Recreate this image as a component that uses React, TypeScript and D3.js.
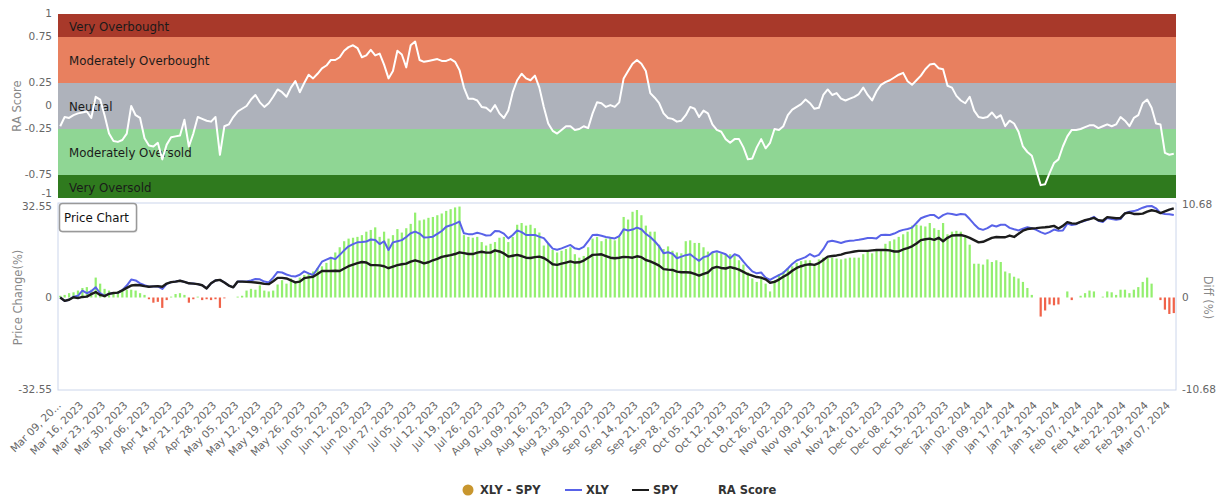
import React from 'react';
import * as d3 from 'd3';

// x axis: one label every 5 trading days
const dateLabels = [
  'Mar 09, 20...', 'Mar 16, 2023', 'Mar 23, 2023', 'Mar 30, 2023', 'Apr 06, 2023', 'Apr 14, 2023',
  'Apr 21, 2023', 'Apr 28, 2023', 'May 05, 2023', 'May 12, 2023', 'May 19, 2023', 'May 26, 2023',
  'Jun 05, 2023', 'Jun 12, 2023', 'Jun 20, 2023', 'Jun 27, 2023', 'Jul 05, 2023', 'Jul 12, 2023',
  'Jul 19, 2023', 'Jul 26, 2023', 'Aug 02, 2023', 'Aug 09, 2023', 'Aug 16, 2023', 'Aug 23, 2023',
  'Aug 30, 2023', 'Sep 07, 2023', 'Sep 14, 2023', 'Sep 21, 2023', 'Sep 28, 2023', 'Oct 05, 2023',
  'Oct 12, 2023', 'Oct 19, 2023', 'Oct 26, 2023', 'Nov 02, 2023', 'Nov 09, 2023', 'Nov 16, 2023',
  'Nov 24, 2023', 'Dec 01, 2023', 'Dec 08, 2023', 'Dec 15, 2023', 'Dec 22, 2023', 'Jan 02, 2024',
  'Jan 09, 2024', 'Jan 17, 2024', 'Jan 24, 2024', 'Jan 31, 2024', 'Feb 07, 2024', 'Feb 14, 2024',
  'Feb 22, 2024', 'Feb 29, 2024', 'Mar 07, 2024'
];
const labelEvery = 5;

const raScore = [
  -0.22, -0.12, -0.13, -0.1, -0.08, -0.07, -0.06, -0.13, 0.1, 0.07,
  -0.1, -0.3, -0.38, -0.39, -0.37, -0.3, 0.0, -0.1, -0.13, -0.35,
  -0.43, -0.44, -0.4, -0.58, -0.42, -0.34, -0.33, -0.32, -0.15, -0.44,
  -0.3, -0.12, -0.14, -0.16, -0.17, -0.12, -0.53, -0.22, -0.2, -0.12,
  -0.06, -0.03, 0.0, 0.07, 0.12, 0.04, -0.01, 0.03, 0.1, 0.18,
  0.15, 0.1, 0.2, 0.27, 0.15, 0.25, 0.34, 0.3, 0.35, 0.41,
  0.44, 0.5, 0.5, 0.53, 0.6, 0.64, 0.66, 0.63, 0.53, 0.55,
  0.61, 0.55, 0.57, 0.45, 0.3, 0.38, 0.6, 0.56, 0.42, 0.66,
  0.7, 0.5, 0.48, 0.49, 0.5, 0.51, 0.49, 0.49, 0.51, 0.48,
  0.39, 0.2, 0.08, 0.08, 0.06, -0.01, -0.02, -0.06, 0.01, -0.08,
  -0.13, -0.05, 0.15, 0.28, 0.35, 0.3, 0.28, 0.33, 0.2, -0.01,
  -0.19, -0.27, -0.3, -0.26, -0.22, -0.22, -0.26, -0.25, -0.22, -0.24,
  -0.08, 0.04, 0.03, -0.01, 0.01, -0.01, 0.04, 0.3, 0.38, 0.46,
  0.5, 0.46, 0.38, 0.14, 0.09, 0.03, -0.08, -0.13, -0.14, -0.17,
  -0.16, -0.1, -0.01, -0.03, -0.12, -0.05, -0.08,
  -0.2, -0.26, -0.28, -0.36, -0.4, -0.36, -0.36, -0.45, -0.58, -0.57,
  -0.45, -0.36, -0.46, -0.4, -0.25, -0.26, -0.22, -0.1, -0.04, -0.01,
  0.02, 0.07, 0.03, -0.03, -0.02, 0.12, 0.18, 0.12, 0.14, 0.08,
  0.06, 0.08, 0.1, 0.13, 0.2, 0.12, 0.06, 0.16, 0.23, 0.26,
  0.28, 0.31, 0.34, 0.36, 0.27, 0.23, 0.28, 0.33, 0.4, 0.45,
  0.46, 0.41, 0.4, 0.22, 0.2, 0.11, 0.06, 0.03, 0.1, -0.05,
  -0.12, -0.13, -0.12, -0.07, -0.13, -0.1, -0.22, -0.16, -0.19, -0.28,
  -0.44, -0.5, -0.54, -0.7, -0.86, -0.85, -0.73, -0.62, -0.58, -0.44,
  -0.33, -0.26, -0.26, -0.25, -0.23, -0.21, -0.21, -0.24, -0.22, -0.2,
  -0.22, -0.2, -0.12, -0.16, -0.22, -0.13, -0.1, 0.03, 0.07, -0.02,
  -0.19, -0.2, -0.51, -0.53, -0.52
];

const xlyChange = [
  0, -1.2, -0.8, 0.3, 0.6, 2.4, 1.5, 2.2, 3.6, 1.5,
  0.6, 1.3, 1.6, 1.7, 2.6, 4.2, 6.3, 6.0, 5.0, 4.3,
  3.8, 3.9, 3.9, 3.0, 4.8, 5.4, 5.6, 5.9, 5.5, 5.0,
  4.9, 4.7, 4.3, 3.2, 5.0, 6.0, 6.2, 5.3, 4.2, 3.6,
  5.6, 5.6, 5.6, 6.0, 6.5, 6.4, 5.6, 5.3, 7.0, 9.0,
  8.8, 8.1, 7.6, 7.4, 8.0, 9.2, 8.5, 7.9, 10.2, 12.6,
  13.3, 14.0, 13.5, 15.0, 16.6, 18.0, 18.8, 19.4, 19.5, 19.7,
  20.4, 20.2, 18.8, 19.8, 16.7, 19.4, 19.8, 20.2, 21.3, 22.6,
  23.2, 22.5, 21.1, 21.2, 21.4, 22.4, 23.4, 24.9, 25.4, 26.0,
  26.7, 22.6, 22.3, 22.3, 22.8, 22.4, 21.8, 21.9, 23.4, 23.3,
  22.5, 20.8, 22.0, 23.6, 23.0, 22.0, 22.0, 22.0, 21.4, 20.9,
  19.0, 17.2, 16.8, 17.3, 17.9, 18.5, 17.3, 17.0, 17.8, 19.8,
  22.0, 22.1, 21.7, 21.3, 21.0, 20.8, 21.6, 24.0, 23.6, 23.9,
  24.6, 24.0, 22.4, 21.3, 19.8, 18.0, 15.6, 15.9, 15.4, 13.8,
  14.4, 14.9, 15.2, 14.0, 12.9, 14.2, 14.6,
  15.9, 16.3, 15.8, 15.2, 13.8, 15.2, 14.6, 12.6, 10.8, 9.2,
  8.5, 8.8, 7.0, 6.2, 7.1, 7.9, 8.7, 10.2, 11.8, 13.0,
  13.6, 14.2, 15.3, 14.4, 15.0, 17.0, 19.6, 20.0, 19.6, 19.2,
  19.7, 20.0, 20.1, 20.3, 20.6, 20.9, 20.9, 20.8, 22.0, 22.1,
  22.0, 22.5, 23.3, 23.8, 24.1, 24.6, 26.2, 27.9, 28.5, 29.0,
  29.0,
  27.9, 29.0, 29.6, 29.4, 29.0, 29.4, 29.2, 27.6, 25.8, 24.3,
  23.8, 24.4, 25.4, 25.0, 25.6, 25.6, 24.5, 24.0, 23.6, 24.2,
  24.7, 24.4, 23.8, 23.0, 22.4, 23.0, 23.9, 23.5, 23.6, 26.0,
  25.5, 25.8, 26.6, 27.0, 27.6, 28.4, 27.0, 26.6, 28.0, 27.6,
  27.4, 27.6, 29.7, 30.2, 30.4, 30.9, 31.6, 32.1, 32.2, 31.4,
  29.7, 29.4, 29.3, 29.0
];

const spyChange = [
  0, -1.2, -0.8, 0.1, -0.2, 0.2, 0.3, 1.2, 1.9, 0.9,
  0.5, 1.3, 1.6, 1.7, 2.5, 3.4, 4.2, 4.4, 4.3, 4.0,
  3.8, 3.9, 4.0, 3.8, 4.9, 5.4, 5.6, 5.9, 5.5, 5.0,
  4.9, 4.7, 4.3, 3.2, 5.0, 6.0, 6.2, 5.3, 4.2, 3.6,
  5.6, 5.6, 5.5, 5.4, 5.3, 5.1, 4.8, 4.7, 5.7, 6.9,
  6.9, 6.7, 6.0, 5.3, 5.6, 6.8, 7.1, 7.3, 8.3, 9.3,
  9.3, 9.3, 9.4, 9.3, 10.2, 11.0, 11.6, 12.1, 12.5, 12.3,
  11.4, 11.4, 11.3, 11.0, 10.3, 10.9, 11.4, 11.7, 11.9, 12.6,
  13.1, 12.6, 12.0, 12.4, 13.1, 13.6, 14.3, 14.6, 14.9, 15.3,
  15.9, 15.6, 15.3, 15.3, 15.8, 16.1, 15.8, 15.8, 16.6, 16.2,
  15.5, 14.4, 14.7, 15.0, 14.6, 14.0, 13.9, 14.2, 14.4, 13.9,
  12.9, 11.7, 11.5, 11.9, 12.3, 12.7, 12.3, 12.4, 13.0, 14.0,
  15.0, 15.1, 15.2, 14.6, 14.0, 13.8, 14.0, 14.3, 14.2, 14.0,
  14.5, 14.2, 13.2, 12.7, 12.0, 11.2, 10.0, 9.8, 9.7, 9.1,
  8.9, 8.9, 8.8, 8.3, 7.7, 8.3, 8.8,
  10.3, 10.8, 10.4, 10.2, 10.7, 10.3, 9.8, 9.0, 8.2, 7.7,
  7.2, 7.0, 6.4, 5.2, 5.5, 6.3, 7.3, 8.2, 9.4, 10.4,
  11.0, 11.5, 11.7, 11.5, 12.1, 13.2, 14.4, 14.6, 14.8, 15.1,
  15.6, 15.9, 16.2, 16.4, 16.4, 16.4, 16.6, 16.7, 16.7, 16.7,
  16.6, 16.2, 16.2, 16.9, 17.4, 18.0, 19.0, 20.2, 20.5, 20.7,
  20.3,
  21.0, 19.8, 21.0, 21.8, 21.9, 22.0, 21.6, 21.0, 20.2, 19.4,
  19.6, 20.3, 21.0, 21.3, 21.2, 21.2, 21.8, 21.3, 22.4, 23.5,
  24.1, 24.3, 24.4, 24.6, 24.7, 24.9, 25.2, 24.3, 25.2, 26.5,
  26.1, 26.0, 26.6, 27.2, 27.6, 28.0, 27.2, 27.0, 28.3, 28.1,
  27.9, 28.0, 29.6, 29.9, 29.4, 29.4, 29.5, 30.2, 30.7, 30.4,
  29.7, 30.3, 30.9, 31.4
];

const xlyMinusSpy = [
  0.2, 0.3, 0.5, 0.6, 0.8, 1.1, 1.2, 0.9, 2.3, 1.6,
  1.0, 0.8, 0.6, 0.7, 0.8, 0.9, 0.9, 0.8, 0.5, 0.3,
  -0.2, -0.6, -0.5, -1.2, -0.3, 0.1, 0.4, 0.5, 0.3, -0.6,
  -0.2, 0.1, -0.3, -0.2, -0.3, -0.2, -1.2, -0.1, 0.0, 0.0,
  0.1, 0.2, 0.8, 1.0, 0.9, 1.4, 0.8, 0.7, 0.8, 1.5,
  2.0, 1.6, 2.2, 1.8, 2.3, 2.6, 2.8, 3.0, 3.4, 3.6,
  4.0, 4.6, 5.2, 5.8, 6.5, 6.8, 6.9, 7.0, 7.2, 7.6,
  7.8, 8.1, 7.0, 7.6, 6.8, 7.2, 7.9, 7.5, 8.0, 8.5,
  9.8, 8.9, 9.0, 9.2, 9.3, 9.5, 9.7, 10.0, 10.2, 10.4,
  10.5, 7.2, 7.0, 6.9, 7.0, 6.4, 6.0, 6.2, 6.4, 6.9,
  7.0, 6.4, 7.0, 8.4, 8.6, 8.3, 8.4, 8.0, 7.5, 6.0,
  6.2, 5.5, 5.2, 5.4, 5.6, 5.8, 5.0, 4.6, 4.8, 5.8,
  6.8, 7.0,
  6.5, 6.8, 7.0, 6.6, 7.0, 9.3, 9.0, 9.9, 10.1, 9.5,
  8.3, 7.6, 7.6, 6.1, 5.6, 5.9, 5.4, 5.2, 5.1, 6.5,
  6.6, 6.3, 6.3, 5.8, 5.3, 5.2, 5.2, 5.1, 5.0, 5.0,
  4.8, 4.3, 3.8, 2.9, 2.2, 1.8, 2.4, 1.6, 0.7, 2.0,
  2.7, 3.0, 3.4, 3.6, 4.0, 4.2, 4.3, 4.3, 3.7, 4.4,
  4.6, 4.6, 4.6, 4.5, 4.4, 4.5, 4.6, 4.6, 4.6, 5.0,
  5.3, 5.1, 5.4, 5.5, 6.2, 6.5, 6.7, 7.0, 7.3, 7.6,
  8.3, 8.4, 8.3, 8.2, 8.6, 8.0, 7.8,
  8.6, 7.3, 7.6, 7.7, 7.6, 7.0, 6.1, 3.9, 3.9, 3.8,
  4.4, 4.1, 4.3, 4.1, 3.0, 2.8, 2.4, 2.2, 1.8, 1.1,
  0.3, 0.0, -2.2, -1.5, -0.8, -0.9, -0.8, 0.0, 0.7, -0.3,
  0.0, 0.2, 0.5, 0.8, 0.7, 0.0, 0.1, 0.7, 0.6, 0.3,
  0.9, 0.9, 0.5, 0.9, 1.2, 1.8, 2.3, 1.6, 0.0, -0.3,
  -1.4, -1.9, -1.8
];

// RA score zones
const zoneNames = ['Very Overbought', 'Moderately Overbought', 'Neutral', 'Moderately Oversold', 'Very Oversold'];
const zoneTops = [1, 0.75, 0.25, -0.25, -0.75];
const zoneBottoms = [0.75, 0.25, -0.25, -0.75, -1];

const raTicks = [1, 0.75, 0.25, 0, -0.25, -0.75, -1];
const priceTicks = [32.55, 0, -32.55];
const diffTicks = [10.68, 0, -10.68];

const zoneColors = ['#a8392a', '#e8805f', '#aeb2bb', '#8fd694', '#2f7a1e'];
const FONT = '"DejaVu Sans", Verdana, sans-serif';

export default function App() {
  const width = 1226;
  const height = 500;
  const left = 58;
  const right = 1176;

  const n = raScore.length;
  const x = d3.scaleBand<number>().domain(d3.range(n)).range([left, right]).padding(0);
  const cx = (i: number) => (x(i) as number) + x.bandwidth() / 2;
  const barW = x.bandwidth() * 0.5;

  const yRa = d3.scaleLinear().domain([-1, 1]).range([198, 14]);
  const yPrice = d3.scaleLinear().domain([-32.55, 32.55]).range([390, 205]);
  const yDiff = d3.scaleLinear().domain([-10.68, 10.68]).range([390, 205]);

  const raLine = d3.line<number>().x((_, i) => cx(i)).y(d => yRa(d))(raScore) || '';
  const xlyLine = d3.line<number>().x((_, i) => cx(i)).y(d => yPrice(d))(xlyChange) || '';
  const spyLine = d3.line<number>().x((_, i) => cx(i)).y(d => yPrice(d))(spyChange) || '';

  const tickStyle = { fontFamily: FONT, fontSize: 10.5, fill: '#666' } as const;

  // the bottom RA label sits just above the top price label
  const raTickY = (t: number) => (t === -1 ? yRa(t) - 4 : yRa(t));
  const priceTickY = (t: number) => (t === 32.55 ? yPrice(t) + 2 : yPrice(t));

  return (
    <svg width={width} height={height} style={{ position: 'absolute', left: 0, top: 0, background: '#fff' }}>
      {/* RA score panel */}
      {zoneNames.map((name, k) => {
        const y0 = yRa(zoneTops[k]);
        const y1 = yRa(zoneBottoms[k]);
        return (
          <g key={name}>
            <rect x={left} y={y0} width={right - left} height={y1 - y0} fill={zoneColors[k]} />
            <text x={69} y={(y0 + y1) / 2 + 5} style={{ fontFamily: FONT, fontSize: 11.8, fill: '#1a1a1a' }}>{name}</text>
          </g>
        );
      })}
      <path d={raLine} fill="none" stroke="#fff" strokeWidth={2} strokeLinejoin="round" />
      {raTicks.map(t => (
        <text key={'ra' + t} x={52} y={raTickY(t)} textAnchor="end" dominantBaseline="middle" style={tickStyle}>{t}</text>
      ))}
      <text transform={`translate(17,${yRa(0)}) rotate(-90)`} textAnchor="middle" dominantBaseline="middle"
        style={{ fontFamily: FONT, fontSize: 11.5, fill: '#888' }}>RA Score</text>

      {/* price panel */}
      <rect x={left} y={203} width={right - left} height={187} fill="none" stroke="#ccd6eb" strokeWidth={1} />
      {xlyMinusSpy.map((d, i) => (
        d === 0 ? null : (
          <rect key={'b' + i} x={cx(i) - barW / 2} width={barW}
            y={Math.min(yDiff(d), yDiff(0))} height={Math.abs(yDiff(d) - yDiff(0))}
            fill={d > 0 ? '#93ef6f' : '#f0634a'} />
        )
      ))}
      <path d={xlyLine} fill="none" stroke="#5862e8" strokeWidth={2} strokeLinejoin="round" />
      <path d={spyLine} fill="none" stroke="#1c1c1c" strokeWidth={2.4} strokeLinejoin="round" />

      {priceTicks.map(t => (
        <text key={'p' + t} x={52} y={priceTickY(t)} textAnchor="end" dominantBaseline="middle" style={tickStyle}>{t}</text>
      ))}
      {diffTicks.map(t => (
        <text key={'d' + t} x={1182} y={yDiff(t)} dominantBaseline="middle" style={tickStyle}>{t}</text>
      ))}
      <text transform={`translate(18,${yPrice(0)}) rotate(-90)`} textAnchor="middle" dominantBaseline="middle"
        style={{ fontFamily: FONT, fontSize: 11.5, fill: '#888' }}>Price Change(%)</text>
      <text transform={`translate(1207,${yDiff(0)}) rotate(90)`} textAnchor="middle" dominantBaseline="middle"
        style={{ fontFamily: FONT, fontSize: 11.5, fill: '#888' }}>Diff (%)</text>

      {/* x axis labels */}
      {dateLabels.map((lab, k) => (
        <text key={lab} transform={`translate(${cx(k * labelEvery) + 1.5},406) rotate(-45)`} textAnchor="end"
          style={tickStyle}>{lab}</text>
      ))}

      {/* title box */}
      <rect x={60.5} y={205} width={77} height={28} rx={3} fill="#ddd" opacity={0.6} />
      <rect x={59.5} y={203.5} width={77} height={28} rx={3} fill="#fff" stroke="#999" strokeWidth={1.5} />
      <text x={64} y={222} style={{ fontFamily: FONT, fontSize: 11.8, fill: '#111' }}>Price Chart</text>

      {/* legend */}
      <g style={{ fontFamily: FONT, fontSize: 11.5, fontWeight: 'bold', fill: '#333' }}>
        <circle cx={468} cy={490} r={5.5} fill="#c8962e" />
        <text x={480} y={494}>XLY - SPY</text>
        <line x1={565} x2={582} y1={490} y2={490} stroke="#5862e8" strokeWidth={2} />
        <text x={586} y={494}>XLY</text>
        <line x1={632} x2={649} y1={490} y2={490} stroke="#1c1c1c" strokeWidth={2} />
        <text x={653} y={494}>SPY</text>
        <text x={718} y={494}>RA Score</text>
      </g>
    </svg>
  );
}
